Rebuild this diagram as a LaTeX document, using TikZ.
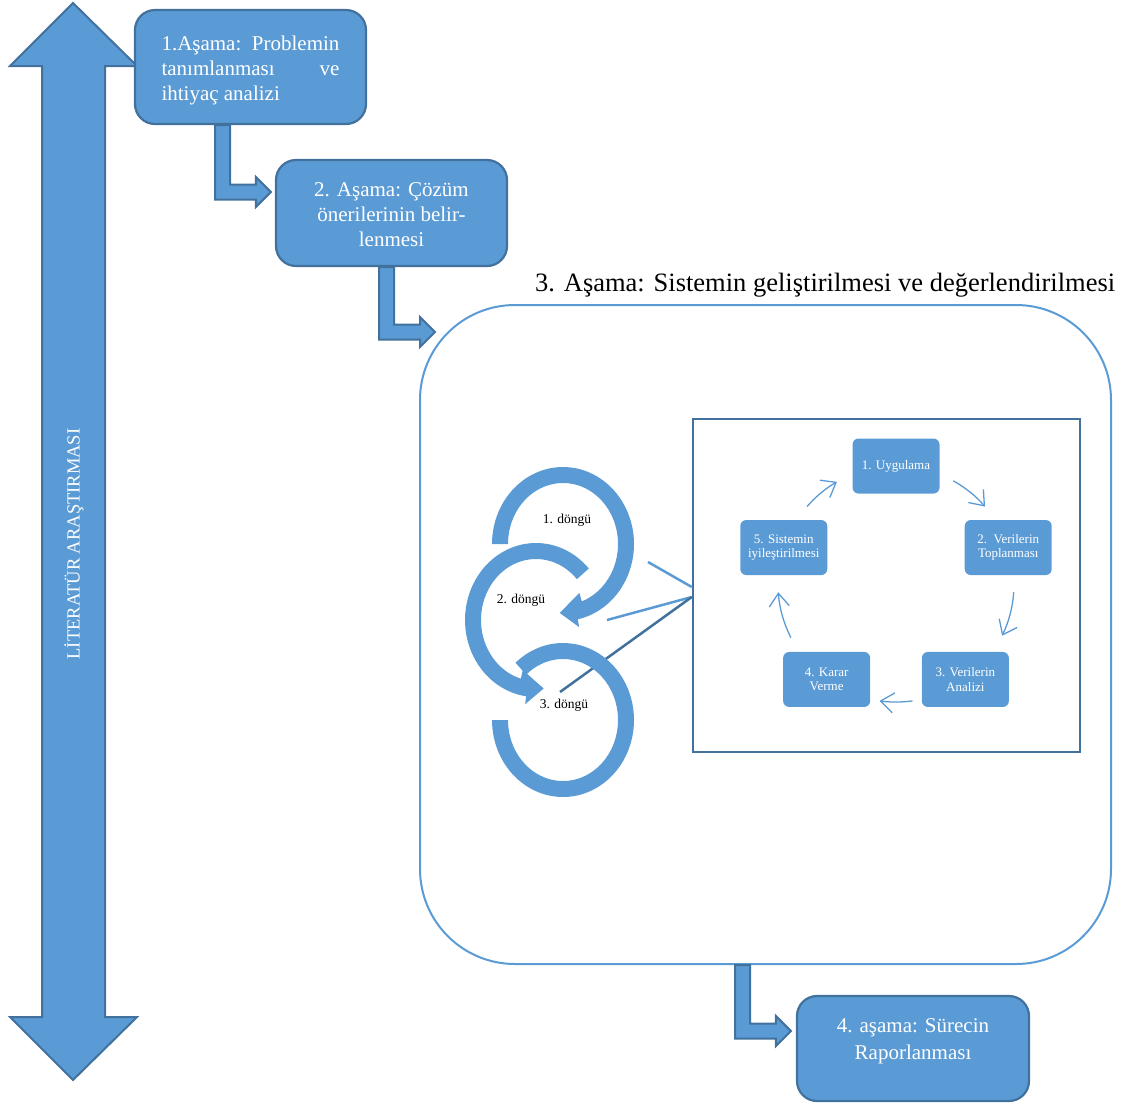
\documentclass[tikz,border=0pt]{standalone}
\usepackage{fontspec}
\setmainfont{Liberation Serif}
\usetikzlibrary{arrows.meta,calc}
\definecolor{accent}{HTML}{5B9BD5}
\definecolor{accentdark}{HTML}{41719C}
\tikzset{
  stagebox/.style={draw=accentdark, line width=2.2pt, fill=accent, rounded corners=20pt,
    text=white, inner sep=0pt, minimum width=231pt},
  stagefont/.style={font=\fontsize{21}{25}\selectfont},
  cyclebox/.style={fill=accent, rounded corners=6pt, text=white, minimum width=87pt,
    minimum height=55pt, inner sep=0pt, align=center, font=\fontsize{13}{14.5}\selectfont},
  cycarrow/.style={draw=accent, line width=1.3pt, -{Straight Barb[length=13pt,width=20pt]}},
  elbow/.style={draw=accentdark, line width=2pt, fill=accent, line join=miter},
  ring/.style={fill=accent},
  ringlabel/.style={font=\fontsize{13.5}{15}\selectfont, inner sep=0pt},
  link/.style={line width=2.5pt},
}
% L-shaped block arrow: #1 = centre of the shaft on the source edge, #2 = tip
\newcommand{\elbowarrow}[2]{%
  \draw[elbow] let \p1=(#1), \p2=(#2) in
    (\x1-7.5pt,\y1) -- (\x1-7.5pt,\y2-7.5pt) -- (\x2-15pt,\y2-7.5pt) -- (\x2-15pt,\y2-15pt)
    -- (\x2,\y2) -- (\x2-15pt,\y2+15pt) -- (\x2-15pt,\y2+7.5pt) -- (\x1+7.5pt,\y2+7.5pt)
    -- (\x1+7.5pt,\y1) -- cycle;}
% text block whose first baseline sits #1 above the node centre
\newcommand{\firstline}[2]{\raisebox{#1}[0pt][0pt]{#2}}
\begin{document}
\begin{tikzpicture}[x=1pt,y=-1pt]
\useasboundingbox (0,0) rectangle (1127,1104);

% literature review: double-headed arrow along the whole process
\fill[accent, draw=accentdark, line width=2pt, line join=miter]
  (73,3) -- (137,66) -- (105,66) -- (105,1017) -- (137,1017) -- (73,1080)
  -- (10,1017) -- (42,1017) -- (42,66) -- (10,66) -- cycle;
\node[rotate=90, text=white, inner sep=0pt, font=\fontsize{18.5}{20}\selectfont] (lit) at (74,544)
  {LİTERATÜR ARAŞTIRMASI};

% stage 3 container and its title
\node[draw=accent, line width=2pt, rounded corners=95pt, minimum width=691pt,
  minimum height=659pt, inner sep=0pt] (bigbox) at (765.5,634.5) {};
\node[anchor=base west, inner sep=0pt, font=\fontsize{26.5}{30}\selectfont] (title) at (535,291)
  {3. Aşama: Sistemin geliştirilmesi ve değerlendirilmesi};

% stage boxes
\node[stagebox, minimum height=114pt, stagefont] (box1) at (250.5,67)
  {\firstline{17pt}{\parbox[t]{178pt}{\raggedright
    1.Aşama:\hfill Problemin\\tanımlanması\hfill ve\\ihtiyaç analizi}}};
\node[stagebox, minimum height=106pt, stagefont] (box2) at (391.5,213)
  {\firstline{17pt}{\begin{tabular}[t]{@{}c@{}}2. Aşama: Çözüm\\önerilerinin belir-\\lenmesi\end{tabular}}};
\node[stagebox, minimum width=232pt, minimum height=105pt, font=\fontsize{21}{27.5}\selectfont] (box4)
  at (913,1048.5)
  {\firstline{16.5pt}{\begin{tabular}[t]{@{}c@{}}4. aşama: Sürecin\\Raporlanması\end{tabular}}};

% stage-to-stage elbow arrows
\elbowarrow{[xshift=-28pt]box1.south}{[xshift=-4pt,yshift=21pt]box2.west}
\elbowarrow{[xshift=-5pt]box2.south}{[xshift=16pt,yshift=-28pt]bigbox.north west}
\elbowarrow{[xshift=-23pt]bigbox.south}{[xshift=-5pt,yshift=17.5pt]box4.west}

% one iteration of the cycle
\node[draw=accentdark, line width=2.5pt, minimum width=387pt, minimum height=333pt,
  inner sep=0pt] (frame) at (886.5,585.5) {};
\coordinate (cyc) at (896,584);
\node[cyclebox] (c1) at ($(cyc)+(-90:118)$) {1. Uygulama};
\node[cyclebox] (c2) at ($(cyc)+(-18:118)$) {2.\ \ Verilerin\\Toplanması};
\node[cyclebox] (c3) at ($(cyc)+(54:118)$) {3. Verilerin\\Analizi};
\node[cyclebox] (c4) at ($(cyc)+(126:118)$) {4. Karar\\Verme};
\node[cyclebox] (c5) at ($(cyc)+(198:118)$) {5. Sistemin\\iyileştirilmesi};
\draw[cycarrow] (cyc) ++(-61:118) arc[start angle=-61, end angle=-41, radius=118];
\draw[cycarrow] (cyc) ++(4:118) arc[start angle=4, end angle=26, radius=118];
\draw[cycarrow] (cyc) ++(82:118) arc[start angle=82, end angle=98, radius=118];
\draw[cycarrow] (cyc) ++(153:118) arc[start angle=153, end angle=176, radius=118];
\draw[cycarrow] (cyc) ++(221:118) arc[start angle=221, end angle=240, radius=118];

% callout lines from the iterations to the cycle
\coordinate (la) at (648,562);
\coordinate (lb) at (607,620);
\coordinate (lc) at (560,692);
\draw[link, accent] (la) -- ([yshift=-1.5pt]frame.west);
\draw[link, accent] (lb) -- ([yshift=-11.5pt]frame.west);
\draw[link, accentdark] (lc) -- ([yshift=-11.5pt]frame.west);

% iteration rings
\fill[ring] plot[domain=180:438, samples=90] ({563+71*cos(\x)},{544+77*sin(\x)})
  -- ({563+78*cos(438)},{544+85*sin(438)})
  -- ({563+63*cos(453)},{544+69*sin(453)})
  -- ({563+48*cos(430)},{544+52*sin(430)})
  -- plot[domain=430:180, samples=90] ({563+55*cos(\x)},{544+61*sin(\x)})
  -- cycle;
\fill[ring] plot[domain=-42:-262, samples=90] ({536+71*cos(\x)},{620+77*sin(\x)})
  -- ({536+78*cos(-262)},{620+85*sin(-262)})
  -- ({536+63*cos(-277)},{620+69*sin(-277)})
  -- ({536+48*cos(-254)},{620+52*sin(-254)})
  -- plot[domain=-254:-42, samples=90] ({536+55*cos(\x)},{620+61*sin(\x)})
  -- cycle;
\fill[ring] plot[domain=228:540, samples=100] ({563+71*cos(\x)},{720+77*sin(\x)})
  -- plot[domain=540:228, samples=100] ({563+55*cos(\x)},{720+61*sin(\x)}) -- cycle;
\node[ringlabel] (l1) at (567,520) {1. döngü};
\node[ringlabel] (l2) at (521,600) {2. döngü};
\node[ringlabel] (l3) at (564,705) {3. döngü};
\end{tikzpicture}
\end{document}
